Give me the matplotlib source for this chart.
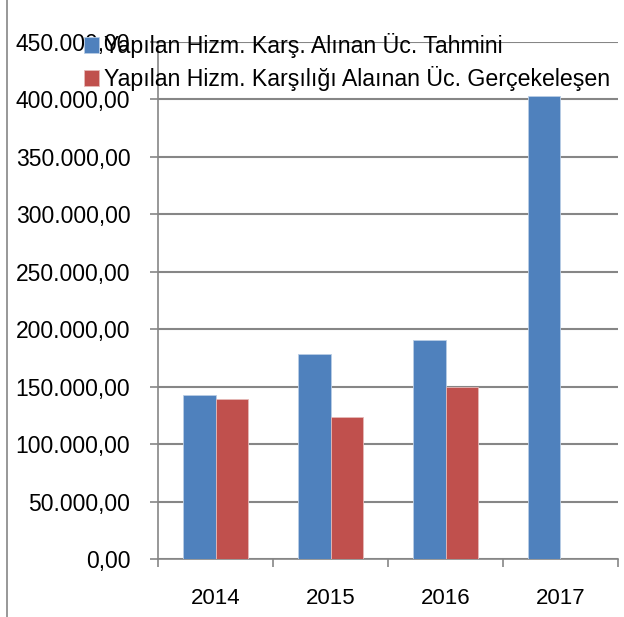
import numpy as np
import matplotlib.pyplot as plt
from matplotlib.lines import Line2D
from matplotlib.ticker import FuncFormatter, MultipleLocator

plt.rcParams['font.family'] = ['Liberation Sans', 'DejaVu Sans']

years = ['2014', '2015', '2016', '2017']
tahmini = [142500, 178000, 190300, 403000]
gerceklesen = [139000, 123500, 149600, np.nan]
series_names = ['Yapılan Hizm. Karş. Alınan Üc. Tahmini',
                'Yapılan Hizm. Karşılığı Alaınan Üc. Gerçekeleşen']

blue = '#4f81bd'
red = '#c0504d'
grid_c = '#868686'

fig = plt.figure(figsize=(6.24, 6.17), dpi=100)
ax = fig.add_axes([158 / 624, 1 - 559 / 617, 460 / 624, 517.5 / 617])

x = np.arange(len(years))
w = 0.285
ax.bar(x - w / 2, tahmini, w, color=blue, edgecolor='#b9cde5', linewidth=0.6,
       label=series_names[0], zorder=3)
ax.bar(x + w / 2, gerceklesen, w, color=red, edgecolor='#e6b9b8', linewidth=0.6,
       label=series_names[1], zorder=3)

ax.set_xlim(-0.5, len(years) - 0.5)
ax.set_ylim(0, 450000)
ax.yaxis.set_major_locator(MultipleLocator(50000))
ax.yaxis.set_major_formatter(FuncFormatter(
    lambda v, p: '{:,.2f}'.format(v).replace(',', 'X').replace('.', ',').replace('X', '.')))
ax.yaxis.grid(True, color=grid_c, linewidth=1.5, zorder=0)

# yıl etiketleri ortada, tikler kategori sınırlarında
ax.set_xticks(x)
ax.set_xticklabels(years)
ax.set_xticks(np.arange(-0.5, len(years)), minor=True)
ax.tick_params(axis='x', which='major', length=0, pad=21, labelsize=16)
ax.tick_params(axis='x', which='minor', length=6, color=grid_c, width=1.2)
ax.tick_params(axis='y', length=6, color=grid_c, width=1.2, labelsize=16.5, pad=14)

for s in ['top', 'right']:
    ax.spines[s].set_visible(False)
for s in ['left', 'bottom']:
    ax.spines[s].set_color(grid_c)
    ax.spines[s].set_linewidth(1.2)

leg = fig.legend(loc='upper left', bbox_to_anchor=(84 / 624, 1 - 33 / 617),
                 frameon=False, fontsize=16.7, handlelength=0.65, handleheight=0.65,
                 handletextpad=0.2, labelspacing=0.35, borderpad=0, borderaxespad=0)

# grafik çerçevesinin sol kenarı
fig.add_artist(Line2D([7 / 624, 7 / 624], [0, 1], color=grid_c, linewidth=1.2))

fig.savefig('out.png', dpi=100)
